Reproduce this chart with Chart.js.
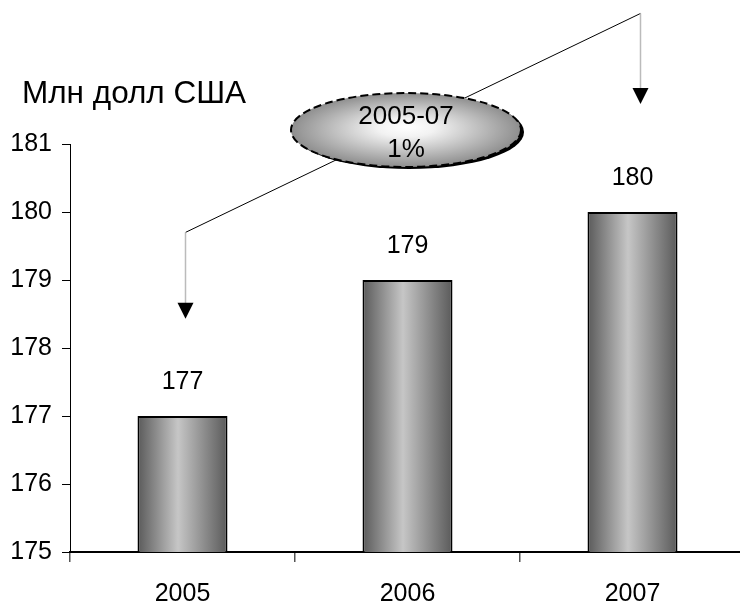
<!DOCTYPE html>
<html>
<head>
<meta charset="utf-8">
<script src="https://cdn.jsdelivr.net/npm/chart.js@4"></script>
<style>
  html, body { margin: 0; padding: 0; background: #fff; overflow: hidden; }
  #wrap { width: 750px; height: 607px; }
</style>
</head>
<body>
<div id="wrap"><canvas id="chart"></canvas></div>
<script>
const years = ['2005', '2006', '2007'];
const values = [177, 179, 180];
const yTicks = [175, 176, 177, 178, 179, 180, 181];
const unitLabel = 'Млн долл США';
const growthLabel = ['2005-07', '1%'];

const FONT = '"Liberation Sans", Arial, sans-serif';

function barGradient(context) {
  const chart = context.chart;
  const x = chart.scales.x;
  if (!chart.chartArea || !x || context.dataIndex === undefined) return '#999';
  const cx = x.getPixelForValue(context.dataIndex);
  const half = x.width / years.length * 0.4 / 2;
  const g = chart.ctx.createLinearGradient(cx - half, 0, cx + half, 0);
  g.addColorStop(0, '#5a5a5a');
  g.addColorStop(0.45, '#c6c6c6');
  g.addColorStop(1, '#5a5a5a');
  return g;
}

const decorations = {
  id: 'decorations',
  afterDatasetsDraw(chart) {
    const ctx = chart.ctx;
    const x = chart.scales.x;
    const y = chart.scales.y;
    ctx.save();

    // title
    ctx.fillStyle = '#000';
    ctx.font = '31.5px ' + FONT;
    ctx.textAlign = 'left';
    ctx.textBaseline = 'middle';
    ctx.fillText(unitLabel, 22, 94);

    // value labels
    ctx.font = '25px ' + FONT;
    ctx.textAlign = 'center';
    const meta = chart.getDatasetMeta(0);
    meta.data.forEach((bar, i) => {
      ctx.fillText(String(values[i]), bar.x, bar.y - 34);
    });

    // growth annotation
    const ax = x.getPixelForValue(0) + 3;
    const bx = x.getPixelForValue(2) + 8;
    const ay = y.getPixelForValue(179.7);
    const by = y.getPixelForValue(182.92);

    ctx.strokeStyle = '#000';
    ctx.lineWidth = 1;
    ctx.beginPath();
    ctx.moveTo(ax, ay);
    ctx.lineTo(bx, by);
    ctx.stroke();

    function arrow(px, top, tip) {
      ctx.strokeStyle = '#bbb';
      ctx.lineWidth = 1.5;
      ctx.beginPath();
      ctx.moveTo(px, top);
      ctx.lineTo(px, tip - 14);
      ctx.stroke();
      ctx.fillStyle = '#000';
      ctx.beginPath();
      ctx.moveTo(px - 8, tip - 16);
      ctx.lineTo(px + 8, tip - 16);
      ctx.lineTo(px, tip);
      ctx.closePath();
      ctx.fill();
    }
    arrow(ax, ay, y.getPixelForValue(178.43));
    arrow(bx, by, y.getPixelForValue(181.59));

    // ellipse
    const ex = 406, ey = 130, rx = 115, ry = 37;
    ctx.fillStyle = '#000';
    ctx.beginPath();
    ctx.ellipse(ex + 3, ey + 2, rx, ry, 0, 0, Math.PI * 2);
    ctx.fill();

    ctx.save();
    ctx.translate(ex, ey);
    ctx.scale(rx / ry, 1);
    const rg = ctx.createRadialGradient(0, -3, 0, 0, 0, ry);
    rg.addColorStop(0, '#ffffff');
    rg.addColorStop(0.25, '#f2f2f2');
    rg.addColorStop(1, '#8e8e8e');
    ctx.fillStyle = rg;
    ctx.beginPath();
    ctx.arc(0, 0, ry, 0, Math.PI * 2);
    ctx.fill();
    ctx.restore();

    ctx.strokeStyle = '#000';
    ctx.lineWidth = 2;
    ctx.setLineDash([8, 4]);
    ctx.beginPath();
    ctx.ellipse(ex, ey, rx, ry, 0, 0, Math.PI * 2);
    ctx.stroke();
    ctx.setLineDash([]);

    ctx.fillStyle = '#000';
    ctx.font = '26px ' + FONT;
    ctx.textAlign = 'center';
    ctx.fillText(growthLabel[0], ex, 117);
    ctx.fillText(growthLabel[1], ex, 150);

    ctx.restore();
  }
};

new Chart(document.getElementById('chart'), {
  type: 'bar',
  data: {
    labels: years,
    datasets: [{
      data: values,
      backgroundColor: barGradient,
      borderColor: '#000',
      borderWidth: 2,
      borderSkipped: false,
      barPercentage: 0.4,
      categoryPercentage: 1
    }]
  },
  options: {
    responsive: true,
    maintainAspectRatio: false,
    animation: false,
    layout: { padding: { top: 144, right: 5, left: 0, bottom: 0 } },
    plugins: { legend: { display: false }, tooltip: { enabled: false } },
    scales: {
      x: {
        afterFit(scale) { scale.height = 55; },
        grid: { offset: true, drawOnChartArea: false, tickLength: 10, color: '#555', lineWidth: 1.5 },
        border: { color: '#000', width: 2 },
        ticks: { color: '#000', font: { family: FONT, size: 25 }, padding: 17 }
      },
      y: {
        min: 175,
        max: 181,
        afterFit(scale) { scale.width = 70; },
        afterBuildTicks(scale) { scale.ticks = yTicks.map(v => ({ value: v })); },
        grid: { drawOnChartArea: false, tickLength: 8, color: '#000' },
        border: { color: '#000', width: 1 },
        ticks: { color: '#000', font: { family: FONT, size: 25 }, padding: 10 }
      }
    }
  },
  plugins: [decorations]
});
</script>
</body>
</html>
